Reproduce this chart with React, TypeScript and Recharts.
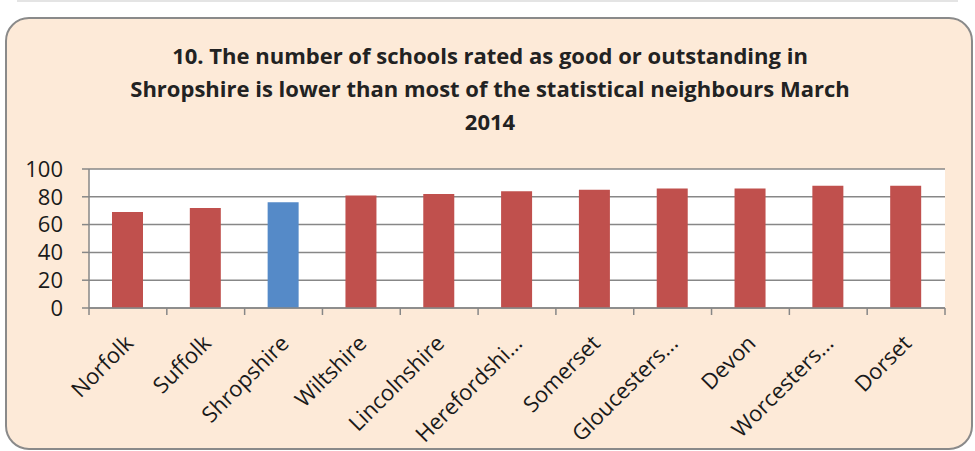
import { BarChart, Bar, XAxis, YAxis, CartesianGrid, Cell } from "recharts";

const authorities = [
  "Norfolk",
  "Suffolk",
  "Shropshire",
  "Wiltshire",
  "Lincolnshire",
  "Herefordshi...",
  "Somerset",
  "Gloucesters...",
  "Devon",
  "Worcesters...",
  "Dorset",
];
const goodOrOutstanding = [69, 72, 76, 81, 82, 84, 85, 86, 86, 88, 88];
const yTicks = [0, 20, 40, 60, 80, 100];
const highlight = "Shropshire";

const data = authorities.map((name, i) => ({ name, value: goodOrOutstanding[i] }));

const AXIS = "#878787";
const RED = "#c0504d";
const BLUE = "#558ac8";

const W = 975;
const H = 451;
const M = { top: 169, right: 30, left: 9, bottom: 13 };
const Y_W = 80;
const HALF_BAND = (W - M.left - M.right - Y_W) / authorities.length / 2;
const TICK = 7;
const TICK_GAP = 2;

function SlantTick(props: any) {
  const { x, y, payload, index } = props;
  const ax = x + 1;
  const ay = y + 22;
  const axisY = y - TICK - TICK_GAP;
  return (
    <g>
      {index === authorities.length - 1 && (
        <line
          x1={x + HALF_BAND}
          x2={x + HALF_BAND}
          y1={axisY}
          y2={axisY + TICK}
          stroke={AXIS}
          strokeWidth={1.5}
        />
      )}
      <text
        x={ax}
        y={ay}
        transform={`rotate(-45 ${ax} ${ay})`}
        textAnchor="end"
        fontFamily="Open Sans"
        fontSize={22}
        fill="#1a1a1a"
        dy={8}
      >
        {payload.value}
      </text>
    </g>
  );
}

export default function App() {
  return (
    <div style={{ position: "relative", width: W, height: H, overflow: "hidden", background: "#fff" }}>
      <style>{`body{margin:0}`}</style>
      <div
        style={{
          position: "absolute",
          left: 17,
          top: 0,
          width: 941,
          height: 2,
          background: "#e4e4e4",
        }}
      />
      <div
        style={{
          position: "absolute",
          left: 5,
          top: 17,
          width: 964,
          height: 429,
          border: "2px solid #8a8a8a",
          borderRadius: 24,
          background: "#fdead8",
        }}
      />
      <div
        style={{
          position: "absolute",
          left: 0,
          top: 39,
          width: 980,
          textAlign: "center",
          fontFamily: "Open Sans",
          fontWeight: 700,
          fontSize: 22,
          lineHeight: "33px",
          color: "#222",
        }}
      >
        10. The number of schools rated as good or outstanding in
        <br />
        Shropshire is lower than most of the statistical neighbours March
        <br />
        2014
      </div>
      <div style={{ position: "absolute", left: 0, top: 0 }}>
        <BarChart width={W} height={H} data={data} margin={M}>
          <CartesianGrid vertical={false} stroke={AXIS} strokeWidth={1.5} fill="#ffffff" fillOpacity={1} />
          <XAxis
            dataKey="name"
            interval={0}
            tick={<SlantTick />}
            tickSize={TICK}
            tickMargin={TICK_GAP}
            tickLine={{ stroke: AXIS, strokeWidth: 1.5, transform: `translate(${-HALF_BAND},0)` }}
            axisLine={{ stroke: AXIS, strokeWidth: 1.5 }}
            height={130}
          />
          <YAxis
            domain={[0, 100]}
            ticks={yTicks}
            interval={0}
            width={Y_W}
            tickSize={TICK}
            tickMargin={19}
            tick={{ fontFamily: "Open Sans", fontSize: 22, fill: "#1a1a1a" }}
            tickLine={{ stroke: AXIS, strokeWidth: 1.5 }}
            axisLine={{ stroke: AXIS, strokeWidth: 1.5 }}
          />
          <Bar dataKey="value" barSize={31} isAnimationActive={false}>
            {data.map((d) => (
              <Cell key={d.name} fill={d.name === highlight ? BLUE : RED} />
            ))}
          </Bar>
        </BarChart>
      </div>
    </div>
  );
}
